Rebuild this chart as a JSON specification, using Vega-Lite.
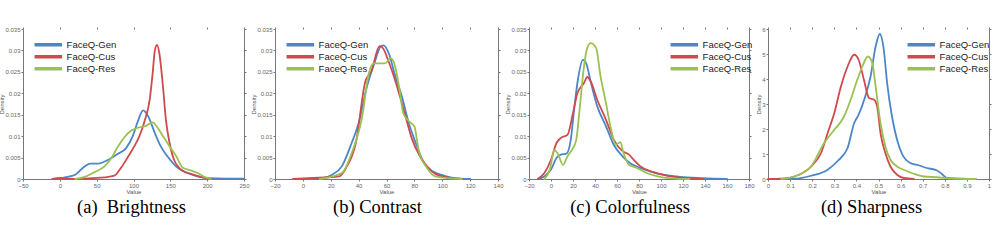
{
  "$schema": "https://vega.github.io/schema/vega-lite/v6.json",
  "padding": {"left": -2, "top": 26, "right": 0, "bottom": 0},
  "background": "white",
  "datasets": {
    "bright": [
      {"method":"FaceQ-Gen","value":-10,"density":0},{"method":"FaceQ-Gen","value":7,"density":0.0004},{"method":"FaceQ-Gen","value":21,"density":0.001},{"method":"FaceQ-Gen","value":34,"density":0.003},{"method":"FaceQ-Gen","value":41,"density":0.0036},{"method":"FaceQ-Gen","value":52,"density":0.0036},{"method":"FaceQ-Gen","value":66,"density":0.0045},{"method":"FaceQ-Gen","value":79,"density":0.0059},{"method":"FaceQ-Gen","value":90,"density":0.0072},{"method":"FaceQ-Gen","value":99,"density":0.010},{"method":"FaceQ-Gen","value":106,"density":0.0135},{"method":"FaceQ-Gen","value":113,"density":0.016},{"method":"FaceQ-Gen","value":120,"density":0.0146},{"method":"FaceQ-Gen","value":129,"density":0.0107},{"method":"FaceQ-Gen","value":137,"density":0.0076},{"method":"FaceQ-Gen","value":146,"density":0.0053},{"method":"FaceQ-Gen","value":160,"density":0.0026},{"method":"FaceQ-Gen","value":173,"density":0.0014},{"method":"FaceQ-Gen","value":187,"density":0.0006},{"method":"FaceQ-Gen","value":200,"density":0.0002},{"method":"FaceQ-Gen","value":225,"density":0.0001},{"method":"FaceQ-Gen","value":250,"density":0.0001},
      {"method":"FaceQ-Cus","value":-10,"density":0},{"method":"FaceQ-Cus","value":-2,"density":0.0002},{"method":"FaceQ-Cus","value":25,"density":0},{"method":"FaceQ-Cus","value":45,"density":0.0002},{"method":"FaceQ-Cus","value":61,"density":0.0004},{"method":"FaceQ-Cus","value":74,"density":0.0008},{"method":"FaceQ-Cus","value":83,"density":0.0026},{"method":"FaceQ-Cus","value":93,"density":0.0053},{"method":"FaceQ-Cus","value":101,"density":0.0076},{"method":"FaceQ-Cus","value":108,"density":0.010},{"method":"FaceQ-Cus","value":115,"density":0.0135},{"method":"FaceQ-Cus","value":122,"density":0.0185},{"method":"FaceQ-Cus","value":126,"density":0.0247},{"method":"FaceQ-Cus","value":129,"density":0.030},{"method":"FaceQ-Cus","value":132,"density":0.0313},{"method":"FaceQ-Cus","value":135,"density":0.0294},{"method":"FaceQ-Cus","value":140,"density":0.0216},{"method":"FaceQ-Cus","value":144,"density":0.0138},{"method":"FaceQ-Cus","value":149,"density":0.0084},{"method":"FaceQ-Cus","value":155,"density":0.0045},{"method":"FaceQ-Cus","value":167,"density":0.0019},{"method":"FaceQ-Cus","value":178,"density":0.0012},{"method":"FaceQ-Cus","value":191,"density":0.0005},{"method":"FaceQ-Cus","value":205,"density":0},
      {"method":"FaceQ-Res","value":21,"density":0},{"method":"FaceQ-Res","value":34,"density":0.0005},{"method":"FaceQ-Res","value":47,"density":0.0016},{"method":"FaceQ-Res","value":61,"density":0.003},{"method":"FaceQ-Res","value":70,"density":0.0049},{"method":"FaceQ-Res","value":79,"density":0.0076},{"method":"FaceQ-Res","value":88,"density":0.0098},{"method":"FaceQ-Res","value":97,"density":0.0113},{"method":"FaceQ-Res","value":106,"density":0.012},{"method":"FaceQ-Res","value":117,"density":0.0124},{"method":"FaceQ-Res","value":126,"density":0.0132},{"method":"FaceQ-Res","value":133,"density":0.0119},{"method":"FaceQ-Res","value":140,"density":0.010},{"method":"FaceQ-Res","value":149,"density":0.0076},{"method":"FaceQ-Res","value":158,"density":0.0053},{"method":"FaceQ-Res","value":167,"density":0.0026},{"method":"FaceQ-Res","value":178,"density":0.002},{"method":"FaceQ-Res","value":187,"density":0.0014},{"method":"FaceQ-Res","value":196,"density":0.0005},{"method":"FaceQ-Res","value":205,"density":0}
    ],
    "contrast": [
      {"method":"FaceQ-Gen","value":-7,"density":0},{"method":"FaceQ-Gen","value":14,"density":0.0002},{"method":"FaceQ-Gen","value":21,"density":0.001},{"method":"FaceQ-Gen","value":28,"density":0.003},{"method":"FaceQ-Gen","value":35,"density":0.0084},{"method":"FaceQ-Gen","value":40,"density":0.013},{"method":"FaceQ-Gen","value":46,"density":0.0216},{"method":"FaceQ-Gen","value":51,"density":0.0267},{"method":"FaceQ-Gen","value":56,"density":0.031},{"method":"FaceQ-Gen","value":58,"density":0.0312},{"method":"FaceQ-Gen","value":62,"density":0.029},{"method":"FaceQ-Gen","value":66,"density":0.0243},{"method":"FaceQ-Gen","value":71,"density":0.0193},{"method":"FaceQ-Gen","value":76,"density":0.013},{"method":"FaceQ-Gen","value":81,"density":0.0084},{"method":"FaceQ-Gen","value":87,"density":0.0037},{"method":"FaceQ-Gen","value":93,"density":0.0018},{"method":"FaceQ-Gen","value":100,"density":0.0009},{"method":"FaceQ-Gen","value":109,"density":0.0002},{"method":"FaceQ-Gen","value":120,"density":0},
      {"method":"FaceQ-Cus","value":-7,"density":0},{"method":"FaceQ-Cus","value":5,"density":0.0002},{"method":"FaceQ-Cus","value":26,"density":0.0006},{"method":"FaceQ-Cus","value":31,"density":0.0026},{"method":"FaceQ-Cus","value":38,"density":0.0084},{"method":"FaceQ-Cus","value":45,"density":0.023},{"method":"FaceQ-Cus","value":49,"density":0.025},{"method":"FaceQ-Cus","value":55,"density":0.031},{"method":"FaceQ-Cus","value":57,"density":0.0307},{"method":"FaceQ-Cus","value":62,"density":0.027},{"method":"FaceQ-Cus","value":69,"density":0.020},{"method":"FaceQ-Cus","value":74,"density":0.0142},{"method":"FaceQ-Cus","value":78,"density":0.0096},{"method":"FaceQ-Cus","value":84,"density":0.0053},{"method":"FaceQ-Cus","value":90,"density":0.0026},{"method":"FaceQ-Cus","value":95,"density":0.0012},{"method":"FaceQ-Cus","value":104,"density":0.0004},{"method":"FaceQ-Cus","value":114,"density":0},
      {"method":"FaceQ-Res","value":12,"density":0},{"method":"FaceQ-Res","value":28,"density":0.0014},{"method":"FaceQ-Res","value":35,"density":0.006},{"method":"FaceQ-Res","value":43,"density":0.0154},{"method":"FaceQ-Res","value":47,"density":0.0243},{"method":"FaceQ-Res","value":51,"density":0.027},{"method":"FaceQ-Res","value":56,"density":0.027},{"method":"FaceQ-Res","value":59,"density":0.027},{"method":"FaceQ-Res","value":63,"density":0.0282},{"method":"FaceQ-Res","value":65,"density":0.0275},{"method":"FaceQ-Res","value":69,"density":0.0216},{"method":"FaceQ-Res","value":72,"density":0.0154},{"method":"FaceQ-Res","value":76,"density":0.0135},{"method":"FaceQ-Res","value":80,"density":0.0123},{"method":"FaceQ-Res","value":83,"density":0.0068},{"method":"FaceQ-Res","value":89,"density":0.0026},{"method":"FaceQ-Res","value":95,"density":0.0006},{"method":"FaceQ-Res","value":104,"density":0.0002},{"method":"FaceQ-Res","value":114,"density":0}
    ],
    "color": [
      {"method":"FaceQ-Gen","value":-12,"density":0},{"method":"FaceQ-Gen","value":-6,"density":0.0006},{"method":"FaceQ-Gen","value":0,"density":0.0022},{"method":"FaceQ-Gen","value":5,"density":0.0049},{"method":"FaceQ-Gen","value":9,"density":0.0057},{"method":"FaceQ-Gen","value":14,"density":0.0059},{"method":"FaceQ-Gen","value":18,"density":0.0092},{"method":"FaceQ-Gen","value":21,"density":0.0162},{"method":"FaceQ-Gen","value":24,"density":0.0224},{"method":"FaceQ-Gen","value":29,"density":0.0278},{"method":"FaceQ-Gen","value":32,"density":0.027},{"method":"FaceQ-Gen","value":36,"density":0.0228},{"method":"FaceQ-Gen","value":42,"density":0.017},{"method":"FaceQ-Gen","value":50,"density":0.0123},{"method":"FaceQ-Gen","value":57,"density":0.008},{"method":"FaceQ-Gen","value":65,"density":0.0053},{"method":"FaceQ-Gen","value":72,"density":0.0037},{"method":"FaceQ-Gen","value":81,"density":0.0026},{"method":"FaceQ-Gen","value":90,"density":0.0018},{"method":"FaceQ-Gen","value":102,"density":0.001},{"method":"FaceQ-Gen","value":117,"density":0.0005},{"method":"FaceQ-Gen","value":138,"density":0.0002},{"method":"FaceQ-Gen","value":160,"density":0},
      {"method":"FaceQ-Cus","value":-12,"density":0},{"method":"FaceQ-Cus","value":-6,"density":0.0014},{"method":"FaceQ-Cus","value":0,"density":0.0045},{"method":"FaceQ-Cus","value":5,"density":0.0084},{"method":"FaceQ-Cus","value":9,"density":0.0096},{"method":"FaceQ-Cus","value":15,"density":0.0103},{"method":"FaceQ-Cus","value":20,"density":0.0154},{"method":"FaceQ-Cus","value":24,"density":0.020},{"method":"FaceQ-Cus","value":30,"density":0.0224},{"method":"FaceQ-Cus","value":33,"density":0.0238},{"method":"FaceQ-Cus","value":36,"density":0.0228},{"method":"FaceQ-Cus","value":42,"density":0.0185},{"method":"FaceQ-Cus","value":50,"density":0.0138},{"method":"FaceQ-Cus","value":57,"density":0.0092},{"method":"FaceQ-Cus","value":65,"density":0.0065},{"method":"FaceQ-Cus","value":71,"density":0.0057},{"method":"FaceQ-Cus","value":75,"density":0.0045},{"method":"FaceQ-Cus","value":81,"density":0.003},{"method":"FaceQ-Cus","value":93,"density":0.0016},{"method":"FaceQ-Cus","value":105,"density":0.0008},{"method":"FaceQ-Cus","value":123,"density":0.0002},{"method":"FaceQ-Cus","value":138,"density":0},
      {"method":"FaceQ-Res","value":-6,"density":0},{"method":"FaceQ-Res","value":-1,"density":0.0022},{"method":"FaceQ-Res","value":3,"density":0.0068},{"method":"FaceQ-Res","value":6,"density":0.006},{"method":"FaceQ-Res","value":11,"density":0.0033},{"method":"FaceQ-Res","value":15,"density":0.0053},{"method":"FaceQ-Res","value":20,"density":0.0072},{"method":"FaceQ-Res","value":23,"density":0.0092},{"method":"FaceQ-Res","value":26,"density":0.0162},{"method":"FaceQ-Res","value":30,"density":0.0263},{"method":"FaceQ-Res","value":33,"density":0.0306},{"method":"FaceQ-Res","value":36,"density":0.0317},{"method":"FaceQ-Res","value":41,"density":0.0306},{"method":"FaceQ-Res","value":45,"density":0.024},{"method":"FaceQ-Res","value":50,"density":0.0177},{"method":"FaceQ-Res","value":54,"density":0.0123},{"method":"FaceQ-Res","value":59,"density":0.008},{"method":"FaceQ-Res","value":63,"density":0.0086},{"method":"FaceQ-Res","value":66,"density":0.006},{"method":"FaceQ-Res","value":71,"density":0.0033},{"method":"FaceQ-Res","value":78,"density":0.0026},{"method":"FaceQ-Res","value":87,"density":0.0014},{"method":"FaceQ-Res","value":99,"density":0.0005},{"method":"FaceQ-Res","value":114,"density":0.0001},{"method":"FaceQ-Res","value":126,"density":0}
    ],
    "sharp": [
      {"method":"FaceQ-Gen","value":0.06,"density":0},{"method":"FaceQ-Gen","value":0.12,"density":0.01},{"method":"FaceQ-Gen","value":0.195,"density":0.13},{"method":"FaceQ-Gen","value":0.27,"density":0.37},{"method":"FaceQ-Gen","value":0.314,"density":0.71},{"method":"FaceQ-Gen","value":0.36,"density":1.24},{"method":"FaceQ-Gen","value":0.39,"density":2.24},{"method":"FaceQ-Gen","value":0.41,"density":2.57},{"method":"FaceQ-Gen","value":0.44,"density":3.3},{"method":"FaceQ-Gen","value":0.464,"density":4.1},{"method":"FaceQ-Gen","value":0.487,"density":5.3},{"method":"FaceQ-Gen","value":0.506,"density":5.8},{"method":"FaceQ-Gen","value":0.524,"density":5.17},{"method":"FaceQ-Gen","value":0.539,"density":3.84},{"method":"FaceQ-Gen","value":0.561,"density":2.5},{"method":"FaceQ-Gen","value":0.584,"density":1.57},{"method":"FaceQ-Gen","value":0.606,"density":1.01},{"method":"FaceQ-Gen","value":0.644,"density":0.64},{"method":"FaceQ-Gen","value":0.681,"density":0.55},{"method":"FaceQ-Gen","value":0.719,"density":0.44},{"method":"FaceQ-Gen","value":0.763,"density":0.35},{"method":"FaceQ-Gen","value":0.786,"density":0.21},{"method":"FaceQ-Gen","value":0.81,"density":0.04},{"method":"FaceQ-Gen","value":0.87,"density":0.01},{"method":"FaceQ-Gen","value":0.94,"density":0},
      {"method":"FaceQ-Cus","value":0,"density":0},{"method":"FaceQ-Cus","value":0.06,"density":0.01},{"method":"FaceQ-Cus","value":0.12,"density":0.1},{"method":"FaceQ-Cus","value":0.195,"density":0.5},{"method":"FaceQ-Cus","value":0.24,"density":1.04},{"method":"FaceQ-Cus","value":0.27,"density":1.84},{"method":"FaceQ-Cus","value":0.3,"density":2.64},{"method":"FaceQ-Cus","value":0.33,"density":3.7},{"method":"FaceQ-Cus","value":0.36,"density":4.5},{"method":"FaceQ-Cus","value":0.39,"density":4.97},{"method":"FaceQ-Cus","value":0.41,"density":4.77},{"method":"FaceQ-Cus","value":0.434,"density":3.97},{"method":"FaceQ-Cus","value":0.457,"density":3.24},{"method":"FaceQ-Cus","value":0.48,"density":3.17},{"method":"FaceQ-Cus","value":0.494,"density":2.9},{"method":"FaceQ-Cus","value":0.509,"density":1.84},{"method":"FaceQ-Cus","value":0.531,"density":1.04},{"method":"FaceQ-Cus","value":0.554,"density":0.5},{"method":"FaceQ-Cus","value":0.584,"density":0.17},{"method":"FaceQ-Cus","value":0.614,"density":0.04},{"method":"FaceQ-Cus","value":0.66,"density":0},
      {"method":"FaceQ-Res","value":0.06,"density":0},{"method":"FaceQ-Res","value":0.12,"density":0.1},{"method":"FaceQ-Res","value":0.195,"density":0.5},{"method":"FaceQ-Res","value":0.254,"density":1.44},{"method":"FaceQ-Res","value":0.3,"density":1.97},{"method":"FaceQ-Res","value":0.344,"density":2.5},{"method":"FaceQ-Res","value":0.374,"density":3.17},{"method":"FaceQ-Res","value":0.404,"density":3.97},{"method":"FaceQ-Res","value":0.427,"density":4.5},{"method":"FaceQ-Res","value":0.452,"density":4.9},{"method":"FaceQ-Res","value":0.472,"density":4.64},{"method":"FaceQ-Res","value":0.487,"density":3.7},{"method":"FaceQ-Res","value":0.509,"density":2.24},{"method":"FaceQ-Res","value":0.531,"density":1.3},{"method":"FaceQ-Res","value":0.554,"density":0.77},{"method":"FaceQ-Res","value":0.584,"density":0.5},{"method":"FaceQ-Res","value":0.614,"density":0.37},{"method":"FaceQ-Res","value":0.659,"density":0.21},{"method":"FaceQ-Res","value":0.704,"density":0.1},{"method":"FaceQ-Res","value":0.763,"density":0.07},{"method":"FaceQ-Res","value":0.838,"density":0.02},{"method":"FaceQ-Res","value":0.94,"density":0}
    ]
  },
  "spacing": 0,
  "resolve": {"legend": {"color": "independent"}},
  "hconcat": [
    {
      "width": 221, "height": 150,
      "data": {"name": "bright"},
      "title": {"text": "(a)\u00a0 Brightness", "orient": "bottom", "dx": -2},
      "layer": [
        {
          "mark": {"type": "line", "interpolate": "monotone", "strokeWidth": 1.8},
          "encoding": {
            "x": {"field": "value", "type": "quantitative", "scale": {"domain": [-50, 250], "nice": false}, "axis": {"values": [-50, 0, 50, 100, 150, 200, 250], "title": "Value"}},
            "y": {"field": "density", "type": "quantitative", "scale": {"domain": [0, 0.035], "nice": false}, "axis": {"values": [0, 0.005, 0.01, 0.015, 0.02, 0.025, 0.03, 0.035], "format": "~g", "title": "Density"}},
            "color": {"field": "method", "type": "nominal", "sort": ["FaceQ-Gen", "FaceQ-Cus", "FaceQ-Res"], "scale": {"domain": ["FaceQ-Gen", "FaceQ-Cus", "FaceQ-Res"], "range": ["#4a86c8", "#d0494b", "#9ac152"]}, "legend": {"legendX": 9, "legendY": 10}}
          }
        },
        {
          "mark": {"type": "line", "opacity": 0},
          "encoding": {
            "x": {"field": "value", "type": "quantitative", "axis": {"orient": "top", "values": [-50, 0, 50, 100, 150, 200, 250], "labels": false, "domain": false, "title": null}},
            "y": {"field": "density", "type": "quantitative", "axis": {"orient": "right", "values": [0, 0.005, 0.01, 0.015, 0.02, 0.025, 0.03, 0.035], "labels": false, "title": null}},
            "detail": {"field": "method"}
          }
        }
      ],
      "resolve": {"axis": {"x": "independent", "y": "independent"}}
    },
    {
      "width": 223, "height": 150,
      "data": {"name": "contrast"},
      "title": {"text": "(b) Contrast", "orient": "bottom", "dx": -9},
      "layer": [
        {
          "mark": {"type": "line", "interpolate": "monotone", "strokeWidth": 1.8},
          "encoding": {
            "x": {"field": "value", "type": "quantitative", "scale": {"domain": [-20, 140], "nice": false}, "axis": {"values": [-20, 0, 20, 40, 60, 80, 100, 120, 140], "title": "Value"}},
            "y": {"field": "density", "type": "quantitative", "scale": {"domain": [0, 0.035], "nice": false}, "axis": {"values": [0, 0.005, 0.01, 0.015, 0.02, 0.025, 0.03, 0.035], "format": "~g", "title": "Density"}},
            "color": {"field": "method", "type": "nominal", "sort": ["FaceQ-Gen", "FaceQ-Cus", "FaceQ-Res"], "scale": {"domain": ["FaceQ-Gen", "FaceQ-Cus", "FaceQ-Res"], "range": ["#4a86c8", "#d0494b", "#9ac152"]}, "legend": {"legendX": 9, "legendY": 10}}
          }
        },
        {
          "mark": {"type": "line", "opacity": 0},
          "encoding": {
            "x": {"field": "value", "type": "quantitative", "axis": {"orient": "top", "values": [-20, 0, 20, 40, 60, 80, 100, 120, 140], "labels": false, "domain": false, "title": null}},
            "y": {"field": "density", "type": "quantitative", "axis": {"orient": "right", "values": [0, 0.005, 0.01, 0.015, 0.02, 0.025, 0.03, 0.035], "labels": false, "title": null}},
            "detail": {"field": "method"}
          }
        }
      ],
      "resolve": {"axis": {"x": "independent", "y": "independent"}}
    },
    {
      "width": 220, "height": 150,
      "data": {"name": "color"},
      "title": {"text": "(c) Colorfulness", "orient": "bottom", "dx": -9},
      "layer": [
        {
          "mark": {"type": "line", "interpolate": "monotone", "strokeWidth": 1.8},
          "encoding": {
            "x": {"field": "value", "type": "quantitative", "scale": {"domain": [-20, 180], "nice": false}, "axis": {"values": [-20, 0, 20, 40, 60, 80, 100, 120, 140, 160, 180], "title": "Value"}},
            "y": {"field": "density", "type": "quantitative", "scale": {"domain": [0, 0.035], "nice": false}, "axis": {"values": [0, 0.005, 0.01, 0.015, 0.02, 0.025, 0.03, 0.035], "format": "~g", "title": "Density"}},
            "color": {"field": "method", "type": "nominal", "sort": ["FaceQ-Gen", "FaceQ-Cus", "FaceQ-Res"], "scale": {"domain": ["FaceQ-Gen", "FaceQ-Cus", "FaceQ-Res"], "range": ["#4a86c8", "#d0494b", "#9ac152"]}, "legend": {"legendX": 139, "legendY": 10}}
          }
        },
        {
          "mark": {"type": "line", "opacity": 0},
          "encoding": {
            "x": {"field": "value", "type": "quantitative", "axis": {"orient": "top", "values": [-20, 0, 20, 40, 60, 80, 100, 120, 140, 160, 180], "labels": false, "domain": false, "title": null}},
            "y": {"field": "density", "type": "quantitative", "axis": {"orient": "right", "values": [0, 0.005, 0.01, 0.015, 0.02, 0.025, 0.03, 0.035], "labels": false, "title": null}},
            "detail": {"field": "method"}
          }
        }
      ],
      "resolve": {"axis": {"x": "independent", "y": "independent"}}
    },
    {
      "width": 221, "height": 150,
      "data": {"name": "sharp"},
      "title": {"text": "(d) Sharpness", "orient": "bottom", "dx": -7},
      "layer": [
        {
          "mark": {"type": "line", "interpolate": "monotone", "strokeWidth": 1.8},
          "encoding": {
            "x": {"field": "value", "type": "quantitative", "scale": {"domain": [0, 1], "nice": false}, "axis": {"values": [0, 0.1, 0.2, 0.3, 0.4, 0.5, 0.6, 0.7, 0.8, 0.9, 1], "format": "~g", "title": "Value"}},
            "y": {"field": "density", "type": "quantitative", "scale": {"domain": [0, 6], "nice": false}, "axis": {"values": [0, 1, 2, 3, 4, 5, 6], "title": "Density"}},
            "color": {"field": "method", "type": "nominal", "sort": ["FaceQ-Gen", "FaceQ-Cus", "FaceQ-Res"], "scale": {"domain": ["FaceQ-Gen", "FaceQ-Cus", "FaceQ-Res"], "range": ["#4a86c8", "#d0494b", "#9ac152"]}, "legend": {"legendX": 137, "legendY": 10}}
          }
        },
        {
          "mark": {"type": "line", "opacity": 0},
          "encoding": {
            "x": {"field": "value", "type": "quantitative", "axis": {"orient": "top", "values": [0, 0.1, 0.2, 0.3, 0.4, 0.5, 0.6, 0.7, 0.8, 0.9, 1], "labels": false, "domain": false, "title": null}},
            "y": {"field": "density", "type": "quantitative", "axis": {"orient": "right", "values": [0, 1, 2, 3, 4, 5, 6], "labels": false, "title": null}},
            "detail": {"field": "method"}
          }
        }
      ],
      "resolve": {"axis": {"x": "independent", "y": "independent"}}
    }
  ],
  "config": {
    "view": {"stroke": null},
    "font": "Liberation Sans",
    "title": {"font": "Liberation Serif", "fontSize": 18.5, "fontWeight": "normal", "color": "#000000", "offset": 4},
    "axis": {
      "grid": false,
      "labelFontSize": 6,
      "labelColor": "#666666",
      "labelFont": "Liberation Sans",
      "labelPadding": 1,
      "titleFontSize": 6,
      "titleFontWeight": "normal",
      "titleColor": "#555555",
      "titleFont": "Liberation Sans",
      "titlePadding": 0,
      "domainColor": "#777777",
      "tickColor": "#777777",
      "tickSize": 2,
      "labelFlush": false,
      "labelOverlap": false
    },
    "legend": {
      "orient": "none",
      "title": null,
      "symbolType": "M-6.25,0H6.25",
      "symbolSize": 19.36,
      "symbolOffset": 11.55,
      "symbolStrokeWidth": 3.5,
      "labelFontSize": 9.5,
      "labelFont": "Liberation Sans",
      "labelColor": "#222222",
      "labelOffset": 13.55,
      "rowPadding": 0,
      "clipHeight": 11.5,
      "padding": 0
    },
    "line": {"strokeCap": "round"}
  }
}
